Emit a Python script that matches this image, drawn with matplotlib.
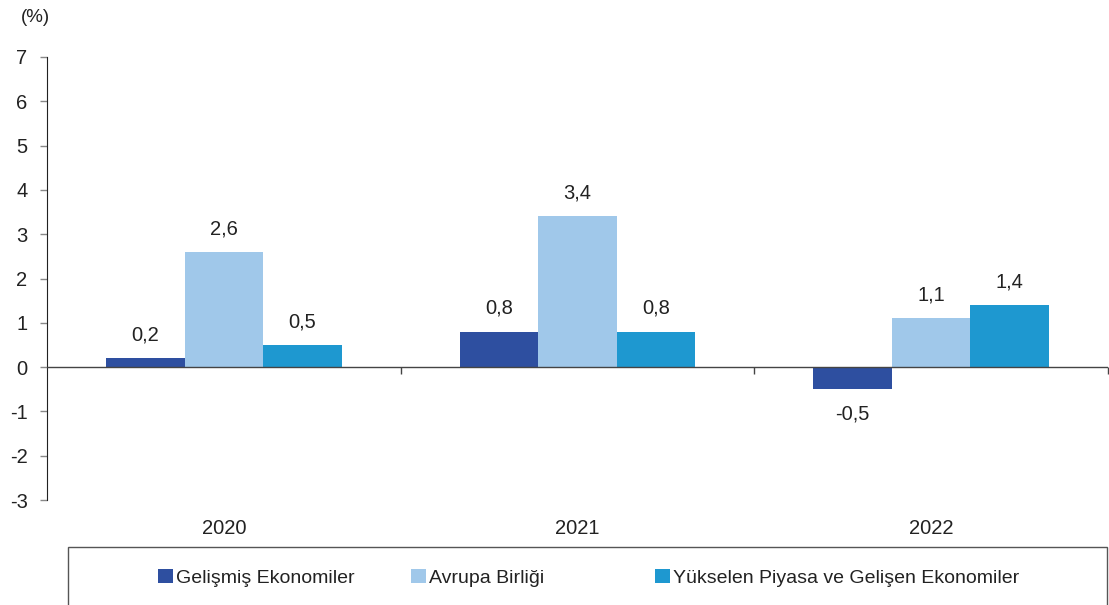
import numpy as np
import matplotlib.pyplot as plt
from matplotlib.patches import Patch, Rectangle

plt.rcParams['font.family'] = ['Liberation Sans', 'DejaVu Sans']

years = ['2020', '2021', '2022']
gelismis = [0.2, 0.8, -0.5]
avrupa = [2.6, 3.4, 1.1]
yukselen = [0.5, 0.8, 1.4]
series_names = ['Gelişmiş Ekonomiler', 'Avrupa Birliği', 'Yükselen Piyasa ve Gelişen Ekonomiler']
colors = ['#2E4FA0', '#A0C8EA', '#1E98D0']

fig = plt.figure(figsize=(11.09, 6.05), dpi=100)
W, H = 1109, 605
ax = fig.add_axes([47 / W, 1 - 500 / H, (1108 - 47) / W, (500 - 57) / H])

x = np.arange(len(years))
bw = 2 / 9
for i, vals in enumerate([gelismis, avrupa, yukselen]):
    pos = x + (i - 1) * bw
    ax.bar(pos, vals, width=bw, color=colors[i], zorder=2)
    for p, v in zip(pos, vals):
        off = 10 if v >= 0 else -11
        ax.annotate(f'{v:.1f}'.replace('.', ','), (p, v), xytext=(0, off),
                    textcoords='offset points', ha='center',
                    va='bottom' if v >= 0 else 'top', fontsize=14.5, color='#222222')

ax.set_xlim(-0.5, 2.5)
ax.set_ylim(-3, 7)
ax.set_yticks(range(-3, 8))
ax.set_yticklabels([str(t) for t in range(-3, 8)])
ax.tick_params(axis='y', length=5, width=1, color='#888888', pad=9, labelsize=14.5, labelcolor='#222222')

ax.set_xticks(x)
ax.set_xticklabels(years)
ax.tick_params(axis='x', length=0, pad=14, labelsize=14.5, labelcolor='#222222')

for s in ['top', 'right', 'bottom']:
    ax.spines[s].set_visible(False)
ax.spines['left'].set_color('#222222')

ax.axhline(0, color='#444444', lw=1, zorder=3)
ax.vlines([0.5, 1.5, 2.5], -0.15, 0, color='#444444', lw=1, zorder=3, clip_on=False)

fig.text(35 / W, 1 - 17 / H, '(%)', ha='center', va='center', fontsize=13.5, color='#222222')

fig.patches.append(Rectangle((68 / W, -0.05), (1107 - 68) / W, 0.05 + (605 - 547) / H,
                             transform=fig.transFigure, fill=False, edgecolor='#555555', lw=1))

leg_x = [158, 411, 655]
for name, c, lx in zip(series_names, colors, leg_x):
    fig.legend(handles=[Patch(facecolor=c, edgecolor='none')], labels=[name],
               loc='center left', bbox_to_anchor=(lx / W, 1 - 578 / H), frameon=False,
               borderpad=0, borderaxespad=0, handlelength=0.75, handleheight=0.75,
               handletextpad=0.2, fontsize=14, labelcolor='#222222')

fig.savefig('out.png', dpi=100)
